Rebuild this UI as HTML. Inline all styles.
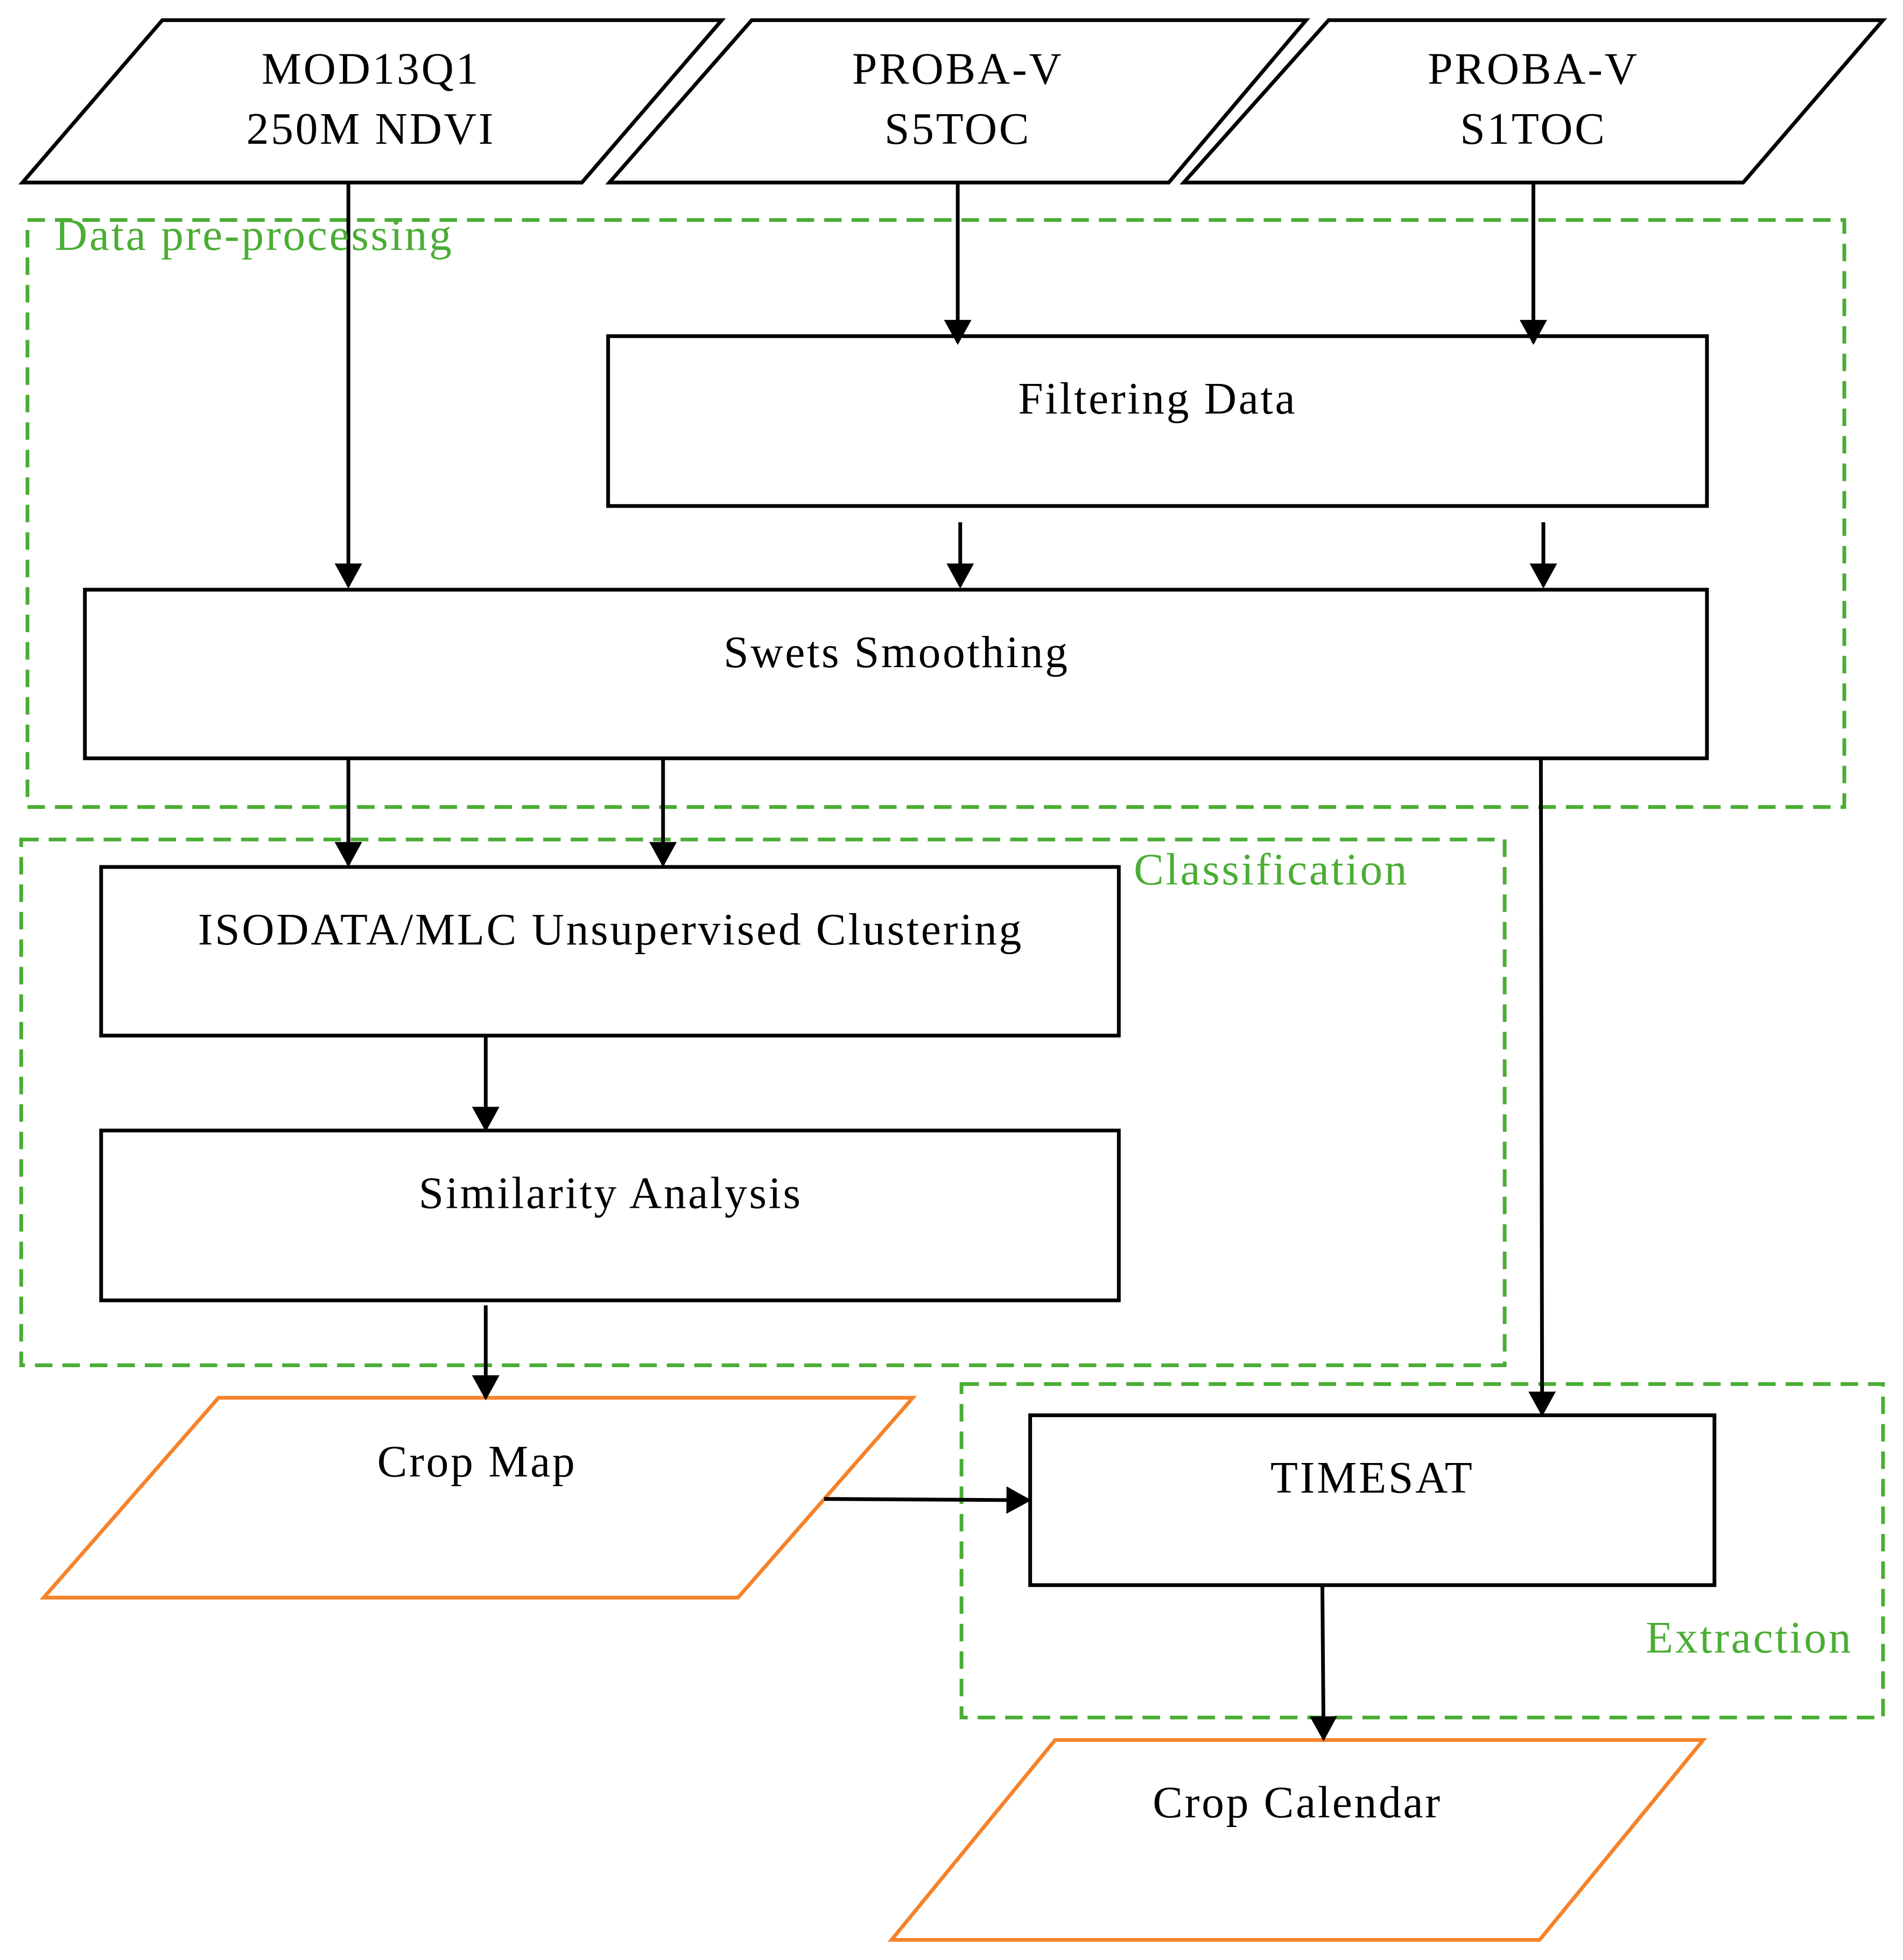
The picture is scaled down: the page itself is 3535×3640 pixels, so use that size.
<!DOCTYPE html>
<html><head><meta charset="utf-8"><style>
html,body{margin:0;padding:0;background:#fff;}
svg{display:block;}
text{font-family:"Liberation Serif",serif;font-size:36px;letter-spacing:1.6px;fill:#000;}
.g{fill:#4aad34;}
</style></head><body>
<svg width="3535" height="3640" viewBox="0 0 1524 1569" xmlns="http://www.w3.org/2000/svg">
<defs>
<marker id="b" markerWidth="20" markerHeight="22" refX="18" refY="11" orient="auto" markerUnits="userSpaceOnUse" viewBox="0 0 20 22"><path d="M0,0 L20,11 L0,22 z" fill="#000"/></marker></defs>
<rect width="1524" height="1569" fill="#fff"/>
<g fill="none" stroke-width="3">
<g stroke="#4aad34" stroke-dasharray="14,8">
<rect x="22" y="176" width="1455" height="470"/>
<rect x="17" y="672" width="1188" height="421"/>
<rect x="770" y="1108" width="738" height="267"/>
</g>
<g stroke="#000">
<polygon points="130,16 578,16 466,146 18,146"/>
<polygon points="602,16 1046,16 936,146 488,146"/>
<polygon points="1064,16 1508,16 1396,146 948,146"/>
<rect x="487" y="269" width="880" height="136"/>
<rect x="68" y="472" width="1299" height="135"/>
<rect x="81" y="694" width="815" height="135"/>
<rect x="81" y="905" width="815" height="136"/>
<rect x="825" y="1133" width="548" height="136"/>
</g>
<g stroke="#f5822a">
<polygon points="175,1119 731,1119 591,1279 35,1279"/>
<polygon points="845,1393 1364,1393 1233,1553 714,1553"/>
</g>
<g stroke="#000" marker-end="url(#b)">
<line x1="279" y1="146" x2="279" y2="469"/>
<line x1="767" y1="146" x2="767" y2="274"/>
<line x1="1228" y1="146" x2="1228" y2="274"/>
<line x1="769" y1="418" x2="769" y2="469"/>
<line x1="1236" y1="418" x2="1236" y2="469"/>
<line x1="279" y1="607" x2="279" y2="692"/>
<line x1="531" y1="607" x2="531" y2="692"/>
<line x1="1234" y1="607" x2="1235" y2="1132"/>
<line x1="389" y1="829" x2="389" y2="904"/>
<line x1="389" y1="1045" x2="389" y2="1119"/>
<line x1="660" y1="1200" x2="824" y2="1201"/>
<line x1="1059" y1="1269" x2="1060" y2="1392"/>
</g>
</g>
<g text-anchor="middle">
<text x="297" y="67">MOD13Q1</text>
<text x="297" y="115">250M NDVI</text>
<text x="767" y="67">PROBA-V</text>
<text x="767" y="115">S5TOC</text>
<text x="1228" y="67">PROBA-V</text>
<text x="1228" y="115">S1TOC</text>
<text x="927" y="331">Filtering Data</text>
<text x="718" y="534">Swets Smoothing</text>
<text x="489" y="756">ISODATA/MLC Unsupervised Clustering</text>
<text x="489" y="967">Similarity Analysis</text>
<text x="382" y="1182">Crop Map</text>
<text x="1099" y="1195">TIMESAT</text>
<text x="1039" y="1455">Crop Calendar</text>
</g>
<text class="g" x="44" y="200">Data pre-processing</text>
<text class="g" x="908" y="708">Classification</text>
<text class="g" x="1318" y="1323">Extraction</text>
</svg>
</body></html>
